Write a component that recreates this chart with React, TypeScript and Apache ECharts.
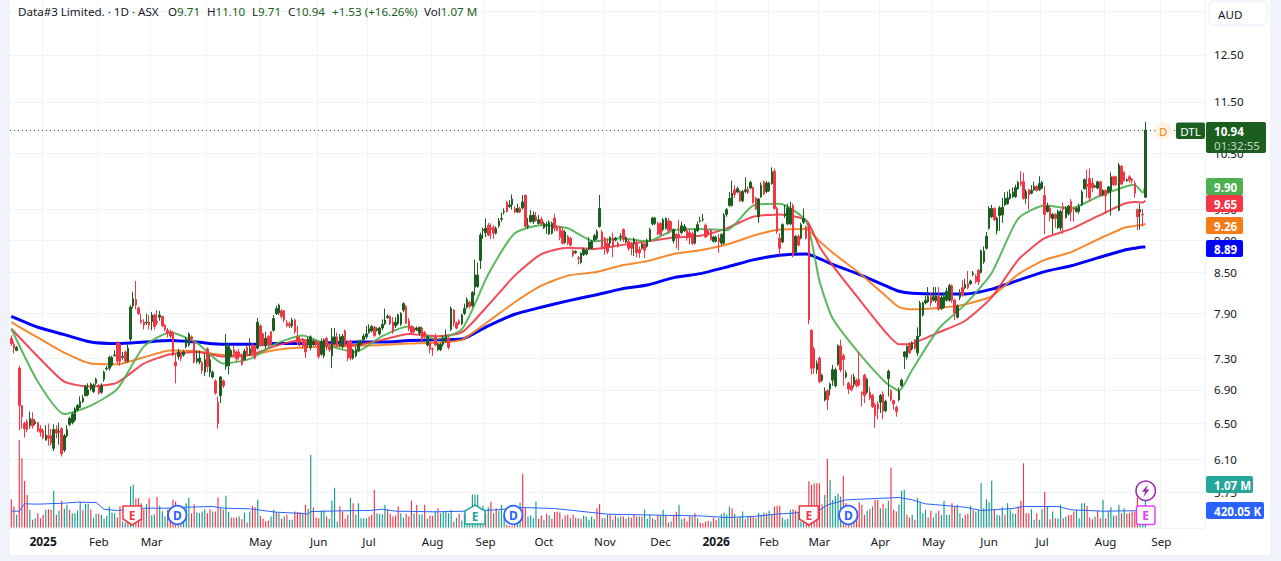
import React, { useEffect, useRef } from "react";
import * as echarts from "echarts";

// ---- candles: [open, close, low, high], one small list per stretch of 20 sessions
const candlesA = [[7.56,7.49,7.46,7.60],[7.48,7.43,7.36,7.52],[7.40,7.44,7.39,7.46],[7.17,6.71,6.42,7.20],[6.71,6.58,6.44,6.71],[6.50,6.44,6.34,6.52],[6.52,6.43,6.40,6.55],[6.48,6.56,6.44,6.64],[6.55,6.47,6.44,6.63],[6.50,6.52,6.48,6.55],[6.51,6.42,6.40,6.52],[6.44,6.40,6.35,6.48],[6.42,6.34,6.32,6.44],[6.31,6.37,6.31,6.48],[6.36,6.33,6.25,6.50],[6.36,6.28,6.25,6.44],[6.22,6.43,6.19,6.49],[6.43,6.39,6.33,6.48],[6.40,6.41,6.26,6.51],[6.44,6.16,6.13,6.46]];
const candlesB = [[6.20,6.36,6.18,6.38],[6.36,6.43,6.34,6.48],[6.49,6.56,6.47,6.58],[6.51,6.61,6.49,6.63],[6.54,6.67,6.52,6.69],[6.66,6.71,6.64,6.73],[6.69,6.76,6.68,6.82],[6.76,6.80,6.74,6.84],[6.83,6.94,6.82,6.96],[6.84,6.90,6.82,6.98],[6.91,6.97,6.89,6.99],[6.88,6.96,6.86,6.98],[6.98,7.03,6.96,7.05],[6.95,6.86,6.84,6.97],[6.87,6.95,6.85,6.98],[7.03,7.12,7.00,7.14],[7.16,7.17,7.14,7.20],[7.17,7.31,7.14,7.33],[7.21,7.31,7.19,7.33],[7.33,7.34,7.32,7.40]];
const candlesC = [[7.50,7.26,7.23,7.52],[7.48,7.26,7.20,7.50],[7.31,7.32,7.28,7.38],[7.38,7.26,7.24,7.40],[7.26,7.43,7.24,7.48],[7.55,7.99,7.52,8.02],[8.01,8.11,7.97,8.21],[8.10,8.02,7.96,8.37],[7.98,7.90,7.88,8.00],[7.81,7.78,7.76,7.90],[7.78,7.74,7.68,7.82],[7.77,7.78,7.74,7.90],[7.78,7.74,7.68,7.88],[7.79,7.88,7.67,7.92],[7.88,7.72,7.68,7.90],[7.79,7.77,7.74,7.95],[7.85,7.88,7.80,7.94],[7.86,7.73,7.71,7.87],[7.74,7.68,7.66,7.75],[7.67,7.63,7.57,7.70]];
const candlesD = [[7.65,7.59,7.56,7.68],[7.63,7.34,7.32,7.66],[7.25,7.20,6.98,7.35],[7.32,7.38,7.28,7.42],[7.37,7.30,7.26,7.39],[7.34,7.38,7.32,7.40],[7.45,7.55,7.43,7.58],[7.47,7.62,7.45,7.64],[7.58,7.55,7.52,7.60],[7.51,7.25,7.23,7.53],[7.26,7.29,7.23,7.40],[7.25,7.30,7.22,7.40],[7.24,7.14,7.10,7.26],[7.12,7.28,7.07,7.36],[7.42,7.19,7.12,7.44],[7.12,7.28,7.06,7.34],[7.06,7.12,7.04,7.14],[7.01,6.86,6.84,7.03],[6.75,6.50,6.44,6.82],[6.83,7.06,6.74,7.07]];
const candlesE = [[7.01,6.95,6.92,7.03],[7.19,7.48,7.15,7.62],[7.20,7.45,7.09,7.49],[7.33,7.40,7.31,7.42],[7.41,7.36,7.32,7.46],[7.38,7.29,7.25,7.40],[7.38,7.33,7.28,7.42],[7.34,7.22,7.20,7.36],[7.28,7.39,7.27,7.42],[7.44,7.35,7.33,7.46],[7.35,7.42,7.33,7.56],[7.47,7.37,7.35,7.50],[7.45,7.30,7.28,7.47],[7.43,7.78,7.41,7.84],[7.73,7.47,7.45,7.75],[7.62,7.47,7.45,7.64],[7.46,7.56,7.42,7.65],[7.59,7.47,7.43,7.60],[7.65,7.48,7.46,7.66],[7.67,7.83,7.65,7.88]];
const candlesF = [[7.90,7.97,7.88,8.01],[7.91,8.02,7.88,8.04],[7.94,7.86,7.83,7.96],[7.94,7.81,7.78,7.95],[7.77,7.73,7.71,7.81],[7.76,7.73,7.70,7.79],[7.73,7.81,7.70,7.84],[7.81,7.65,7.62,7.83],[7.58,7.50,7.47,7.73],[7.55,7.51,7.45,7.58],[7.55,7.46,7.42,7.57],[7.52,7.38,7.30,7.55],[7.48,7.55,7.44,7.58],[7.44,7.58,7.40,7.60],[7.48,7.52,7.46,7.55],[7.52,7.48,7.46,7.54],[7.50,7.32,7.29,7.52],[7.35,7.52,7.33,7.56],[7.33,7.54,7.30,7.56],[7.56,7.45,7.40,7.58]];
const candlesG = [[7.44,7.41,7.38,7.47],[7.33,7.58,7.17,7.70],[7.50,7.58,7.48,7.70],[7.58,7.47,7.44,7.64],[7.47,7.58,7.44,7.62],[7.45,7.59,7.42,7.62],[7.66,7.50,7.45,7.68],[7.52,7.30,7.26,7.54],[7.52,7.30,7.27,7.54],[7.30,7.40,7.28,7.42],[7.33,7.41,7.31,7.45],[7.40,7.52,7.38,7.54],[7.48,7.52,7.46,7.54],[7.54,7.59,7.52,7.62],[7.58,7.62,7.55,7.73],[7.64,7.69,7.62,7.75],[7.66,7.72,7.64,7.74],[7.71,7.60,7.58,7.73],[7.67,7.69,7.65,7.71],[7.62,7.70,7.60,7.72]];
const candlesH = [[7.70,7.75,7.67,7.82],[7.76,7.81,7.74,7.97],[7.84,7.86,7.83,7.89],[7.86,7.76,7.74,7.88],[7.78,7.65,7.62,7.85],[7.73,7.78,7.70,7.85],[7.76,7.88,7.74,7.90],[7.75,7.90,7.73,7.92],[7.95,8.04,7.92,8.06],[8.00,7.77,7.75,8.02],[7.80,7.69,7.66,7.84],[7.72,7.64,7.62,7.74],[7.70,7.65,7.63,7.72],[7.68,7.70,7.66,7.72],[7.63,7.71,7.60,7.72],[7.70,7.54,7.52,7.72],[7.64,7.58,7.56,7.66],[7.47,7.58,7.45,7.60],[7.50,7.42,7.36,7.52],[7.42,7.41,7.33,7.44]];
const candlesI = [[7.58,7.47,7.45,7.62],[7.41,7.48,7.39,7.50],[7.41,7.48,7.39,7.50],[7.48,7.56,7.45,7.60],[7.52,7.60,7.50,7.68],[7.56,7.44,7.41,7.58],[7.68,7.97,7.66,8.00],[7.95,7.77,7.72,7.96],[7.77,7.70,7.68,7.79],[7.80,7.76,7.74,7.82],[7.76,7.88,7.74,7.90],[7.90,7.97,7.88,8.04],[7.99,8.10,7.97,8.13],[8.06,8.00,7.97,8.08],[8.01,8.20,7.99,8.22],[8.28,8.46,8.16,8.69],[8.29,8.46,8.27,8.65],[8.68,9.08,8.55,9.12],[9.15,9.17,9.02,9.20],[9.12,9.19,9.05,9.35]];
const candlesJ = [[9.24,9.08,9.06,9.28],[9.20,9.17,9.02,9.27],[9.20,9.11,9.02,9.24],[9.11,9.19,9.09,9.22],[9.23,9.31,9.20,9.36],[9.34,9.35,9.30,9.45],[9.46,9.47,9.42,9.52],[9.62,9.47,9.45,9.65],[9.55,9.58,9.53,9.66],[9.58,9.68,9.50,9.76],[9.52,9.46,9.44,9.56],[9.46,9.52,9.44,9.60],[9.52,9.46,9.44,9.55],[9.53,9.63,9.50,9.75],[9.74,9.22,9.20,9.76],[9.22,9.24,9.18,9.36],[9.30,9.40,9.28,9.49],[9.30,9.41,9.26,9.47],[9.38,9.32,9.30,9.46],[9.27,9.33,9.25,9.41]];
const candlesK = [[9.34,9.26,9.24,9.38],[9.20,9.27,9.18,9.30],[9.23,9.25,9.10,9.30],[9.10,9.29,9.08,9.32],[9.11,9.27,9.09,9.30],[9.36,9.19,9.14,9.43],[9.21,9.16,9.14,9.24],[9.21,9.04,9.00,9.23],[9.15,8.95,8.93,9.20],[8.96,9.13,8.94,9.16],[9.06,8.95,8.92,9.08],[9.03,8.92,8.90,9.05],[8.83,8.76,8.73,8.85],[8.80,8.82,8.78,8.84],[8.72,8.71,8.62,8.75],[8.65,8.79,8.63,8.81],[8.77,8.85,8.75,8.88],[8.78,8.84,8.76,8.86],[8.86,8.97,8.84,9.05],[8.87,8.98,8.85,9.00]];
const candlesL = [[9.00,9.07,8.98,9.10],[9.03,9.14,9.00,9.17],[9.22,9.52,9.20,9.75],[9.13,8.87,8.85,9.16],[9.03,8.87,8.77,9.05],[8.95,8.82,8.78,9.03],[8.95,9.04,8.90,9.06],[9.03,8.90,8.73,9.12],[9.00,9.03,8.98,9.05],[8.95,8.90,8.88,8.98],[9.05,9.06,8.98,9.11],[9.17,9.01,8.97,9.19],[8.97,9.04,8.95,9.06],[8.98,8.87,8.83,9.02],[8.94,8.87,8.76,8.97],[8.94,9.01,8.75,9.04],[8.94,8.80,8.73,9.00],[8.85,8.80,8.72,8.90],[8.87,8.94,8.85,8.96],[8.94,8.84,8.72,8.96]];
const candlesM = [[8.90,9.00,8.88,9.02],[8.99,9.17,8.97,9.20],[9.26,9.36,9.24,9.38],[9.27,9.36,9.24,9.38],[9.27,9.10,9.08,9.30],[9.27,9.09,9.07,9.29],[9.17,9.33,9.14,9.36],[9.19,9.35,9.17,9.37],[9.31,9.15,9.10,9.36],[9.30,9.17,9.15,9.32],[8.99,9.17,8.95,9.19],[9.09,9.04,8.87,9.11],[9.09,9.04,8.84,9.33],[9.12,9.23,9.09,9.30],[9.15,9.22,9.13,9.26],[9.15,9.03,8.99,9.20],[9.12,9.05,8.93,9.18],[9.10,8.95,8.92,9.14],[8.95,9.17,8.93,9.19],[9.15,9.25,9.13,9.30]];
const candlesN = [[9.31,9.32,9.28,9.38],[9.33,9.34,9.30,9.43],[9.24,9.05,9.03,9.27],[9.15,9.08,9.06,9.17],[9.16,9.01,8.99,9.18],[8.98,9.05,8.96,9.07],[8.98,9.05,8.96,9.07],[9.03,8.97,8.80,9.10],[8.95,9.09,8.92,9.11],[8.95,9.41,8.93,9.44],[9.42,9.50,9.38,9.53],[9.57,9.69,9.55,9.80],[9.57,9.78,9.55,10.00],[9.84,9.76,9.70,9.92],[9.80,9.86,9.78,9.90],[9.81,9.65,9.63,9.84],[9.65,9.81,9.62,9.84],[9.81,9.84,9.78,10.06],[9.85,9.79,9.77,9.90],[9.87,9.97,9.85,10.00]];
const candlesO = [[9.88,9.62,9.60,9.90],[9.70,9.51,9.49,9.72],[9.38,9.68,9.28,9.70],[9.72,9.92,9.70,9.97],[9.98,9.77,9.75,10.00],[9.81,9.96,9.78,10.00],[9.82,9.96,9.80,9.98],[9.95,10.16,9.93,10.24],[10.17,9.52,9.50,10.22],[9.52,9.14,9.10,9.55],[9.03,8.87,8.77,9.11],[8.97,9.25,8.95,9.27],[9.40,9.43,9.36,9.58],[9.26,9.53,9.24,9.60],[9.26,9.52,9.24,9.63],[9.57,8.75,8.73,9.60],[8.81,9.06,8.79,9.08],[9.06,8.92,8.90,9.09],[9.03,9.25,9.01,9.28],[9.29,9.35,9.26,9.52]];
const candlesP = [[9.21,9.03,9.01,9.23],[9.22,7.81,7.75,9.28],[7.67,7.17,7.09,7.68],[7.42,7.17,7.10,7.45],[7.15,7.23,7.10,7.27],[7.30,7.00,6.98,7.32],[7.02,7.08,7.00,7.10],[6.78,6.88,6.76,6.93],[6.89,6.78,6.66,6.91],[6.91,6.97,6.83,6.99],[7.02,7.15,6.95,7.21],[6.95,7.15,6.93,7.18],[7.22,7.46,7.20,7.48],[7.46,7.15,7.12,7.54],[7.33,7.28,6.95,7.36],[7.06,7.11,7.04,7.14],[6.98,6.91,6.85,7.00],[6.95,6.90,6.88,7.09],[6.97,7.06,6.93,7.10],[7.02,6.95,6.93,7.04]];
const candlesQ = [[7.03,6.96,6.94,7.38],[6.87,6.85,6.70,6.88],[7.08,6.83,6.74,7.10],[6.87,7.03,6.85,7.05],[6.87,6.80,6.78,6.94],[6.83,6.70,6.68,6.85],[6.72,6.59,6.45,6.74],[6.73,6.67,6.55,6.76],[6.75,6.83,6.62,6.85],[6.85,6.64,6.55,6.88],[6.65,6.76,6.63,6.78],[7.04,7.13,6.82,7.15],[6.89,6.78,6.76,6.91],[6.77,6.73,6.66,6.78],[6.69,6.64,6.58,6.71],[6.78,6.89,6.76,6.93],[6.95,7.02,6.94,7.04],[7.32,7.38,7.16,7.39],[7.31,7.45,7.28,7.47],[7.49,7.37,7.35,7.51]];
const candlesR = [[7.42,7.50,7.40,7.52],[7.54,7.43,7.41,7.55],[7.37,7.59,7.33,7.71],[7.60,8.05,7.58,8.08],[7.88,8.05,7.86,8.07],[8.05,8.09,8.03,8.15],[8.07,8.14,8.05,8.28],[8.14,8.05,8.00,8.20],[8.09,8.14,8.07,8.28],[8.08,8.15,8.05,8.28],[8.14,7.96,7.94,8.28],[7.97,8.13,7.95,8.16],[7.99,8.14,7.97,8.20],[8.09,8.22,8.07,8.27],[8.09,8.30,8.07,8.33],[8.30,8.09,8.05,8.32],[8.09,7.91,7.81,8.11],[7.85,8.01,7.83,8.03],[8.13,8.20,8.09,8.25],[8.27,8.17,8.14,8.38]];
const candlesS = [[8.27,8.32,8.25,8.40],[8.33,8.27,8.25,8.52],[8.33,8.37,8.31,8.39],[8.47,8.49,8.44,8.52],[8.44,8.36,8.33,8.47],[8.53,8.36,8.31,8.55],[8.50,8.83,8.48,8.85],[8.66,8.83,8.63,8.90],[8.87,9.06,8.85,9.13],[9.19,9.52,9.17,9.56],[9.38,9.52,9.36,9.58],[9.52,9.33,9.31,9.54],[9.15,9.36,9.09,9.38],[9.40,9.53,9.15,9.56],[9.41,9.54,9.28,9.70],[9.58,9.69,9.56,9.80],[9.60,9.70,9.58,9.81],[9.69,9.77,9.67,9.85],[9.72,9.80,9.70,9.88],[9.72,9.88,9.70,9.93]];
const candlesT = [[9.86,9.97,9.84,10.00],[9.98,9.94,9.90,10.17],[9.98,9.69,9.67,10.14],[9.69,9.81,9.60,9.85],[9.84,9.75,9.50,9.86],[9.78,9.83,9.76,9.92],[9.84,9.90,9.82,9.98],[9.90,9.83,9.81,9.92],[9.84,9.95,9.82,10.08],[9.87,9.97,9.85,10.00],[9.74,9.42,9.10,9.90],[9.47,9.56,9.45,9.62],[9.52,9.37,9.30,9.57],[9.35,9.42,9.10,9.44],[9.42,9.35,9.20,9.44],[9.20,9.47,9.18,9.50],[9.20,9.47,9.15,9.50],[9.55,9.50,9.10,9.62],[9.37,9.53,9.35,9.56],[9.43,9.56,9.40,9.58]];
const candlesU = [[9.64,9.46,9.30,9.68],[9.52,9.50,9.30,9.55],[9.47,9.52,9.45,9.54],[9.47,9.55,9.43,9.60],[9.58,9.80,9.56,9.84],[9.86,10.02,9.84,10.04],[9.94,9.90,9.70,10.20],[10.04,9.70,9.63,10.22],[9.96,9.88,9.80,10.05],[9.89,9.91,9.87,9.93],[9.87,9.98,9.85,10.00],[9.98,9.74,9.72,10.00],[9.75,9.83,9.73,9.85],[9.83,9.74,9.43,9.85],[9.80,9.89,9.78,9.91],[9.83,10.07,9.40,10.15],[10.07,9.93,9.91,10.09],[10.07,9.93,9.91,10.09],[9.49,10.28,9.47,10.32],[10.26,9.94,9.92,10.28]];
const candlesV = [[10.15,10.00,9.98,10.17],[10.00,10.02,9.98,10.04],[10.07,10.01,9.97,10.10],[10.03,10.00,9.95,10.05],[9.95,9.78,9.70,10.00],[9.50,9.38,9.16,9.52],[9.46,9.50,9.17,9.60],[9.42,9.41,9.22,9.51],[9.71,10.94,9.71,11.10]];

// ---- volume in thousands; negative marks a down-coloured bar
const volA = [-706,-523,315,-2183,-1726,-1162,-813,440,-191,232,-357,-232,-315,440,-456,-440,913,-315,415,-664];
const volB = [465,564,-440,357,357,423,639,-440,589,589,-456,241,340,-340,315,216,290,523,373,357];
const volC = [-249,-523,149,125,-274,1021,1062,-730,-730,-606,-456,581,-730,307,332,-764,539,407,274,-440];
const volD = [-357,-689,-647,232,-274,506,606,739,-357,-581,373,357,398,456,-357,-456,398,-398,-747,481];
const volE = [-440,788,390,-249,-249,-249,274,-208,373,-125,398,-539,-506,689,-290,-216,-158,-174,274,440];
const volF = [-382,357,-216,274,-315,191,191,-398,-382,-382,357,-564,465,1809,-498,-249,-232,415,423,-274];
const volG = [216,664,988,141,-523,-398,-216,-315,739,-606,315,606,232,232,232,-274,-315,-938,357,332];
const volH = [332,564,-440,-340,-274,-299,-523,357,241,-340,-274,-664,357,-564,315,332,-564,216,-299,-290];
const volI = [415,-481,357,398,398,357,440,-149,241,-340,174,357,357,274,813,813,813,357,539,-357];
const volJ = [506,-639,357,-481,415,564,274,-66,-42,-42,-66,191,622,-1336,-481,274,299,232,647,-216];
const volK = [-299,191,-340,299,-216,-382,-398,-373,208,-299,-315,232,-315,-241,232,-216,299,274,191,274];
const volL = [208,-481,-589,232,-232,315,-332,191,-299,241,274,-274,-216,274,-241,-332,-274,274,-274,440];
const volM = [216,315,-232,191,-315,299,440,-299,-125,149,-315,-390,564,208,-232,-149,-290,274,-357,232];
const volN = [-125,-108,-149,-166,149,-249,-191,232,340,373,315,523,-481,340,-232,274,398,-208,274,-274];
const volO = [-274,241,357,-315,373,-357,415,-315,-523,-539,-539,241,191,216,440,-456,-423,357,149,149];
const volP = [-274,-1154,-1062,-1104,-1104,-1104,-581,813,-1710,1187,689,788,838,772,-1287,-606,-357,232,-274,-440];
const volQ = [-631,-564,-315,415,-456,523,-689,-689,481,-589,481,664,-1494,-440,-398,564,913,938,-315,-249];
const volR = [315,-191,730,631,357,440,-249,-415,249,357,-415,315,664,315,315,-606,-523,564,357,232];
const volS = [-315,-340,539,-440,398,440,1104,481,706,631,1162,-440,315,299,506,-315,606,440,357,340];
const volT = [-523,-664,-1602,-357,-357,456,191,-357,191,456,-888,523,-208,398,-232,232,564,-232,274,-315];
const volU = [-315,-398,440,232,606,606,-539,-249,-208,274,-423,-232,689,-232,415,506,299,-299,564,-357];
const volV = [481,-340,-357,-398,-398,-747,149,108,1070];

// ---- moving averages, read at these session numbers
const maIndex = [0,10,20,30,40,50,60,70,80,90,100,110,120,130,140,150,160,170,180,190,200,210,220,230,240,250,260,270,280,290,300,305,310,320,330,335,340,350,360,370,380,390,400,410,420,424,427,428];
const ma20 = [7.69,7.00,6.61,6.71,6.91,7.45,7.64,7.50,7.23,7.29,7.49,7.60,7.46,7.38,7.59,7.72,7.55,7.68,8.47,9.11,9.24,9.19,8.98,9.03,8.98,9.16,9.18,9.16,9.57,9.60,9.30,8.37,7.83,7.36,6.99,6.89,7.15,7.69,8.03,8.49,9.35,9.57,9.52,9.72,9.89,9.93,9.79,9.90];
const ma50 = [7.69,7.32,7.00,6.94,6.99,7.23,7.35,7.38,7.32,7.34,7.46,7.54,7.48,7.47,7.54,7.62,7.59,7.64,8.02,8.45,8.78,8.88,8.86,8.92,8.98,9.04,9.07,9.19,9.38,9.42,9.32,8.90,8.60,8.10,7.64,7.48,7.49,7.64,7.80,8.13,8.69,9.03,9.18,9.39,9.60,9.63,9.62,9.65];
const ma100 = [7.78,7.57,7.37,7.23,7.22,7.31,7.40,7.39,7.34,7.34,7.41,7.44,7.45,7.46,7.47,7.49,7.50,7.54,7.79,8.06,8.30,8.45,8.50,8.60,8.67,8.78,8.84,8.93,9.07,9.17,9.18,8.98,8.80,8.49,8.15,7.99,7.96,7.98,8.03,8.15,8.47,8.69,8.81,9.01,9.20,9.23,9.25,9.26];
const ma200 = [7.86,7.71,7.61,7.51,7.49,7.51,7.53,7.51,7.48,7.48,7.49,7.49,7.50,7.51,7.51,7.53,7.54,7.55,7.73,7.89,7.99,8.08,8.16,8.25,8.31,8.42,8.48,8.58,8.69,8.76,8.78,8.71,8.62,8.47,8.30,8.22,8.19,8.18,8.18,8.25,8.38,8.51,8.60,8.72,8.84,8.87,8.89,8.89];
const volMaIndex = [0,3,5,10,20,25,32,35,40,50,60,66,76,80,90,100,110,112,113,125,135,140,145,160,172,183,193,205,225,250,260,270,280,290,295,305,308,315,335,340,345,360,366,378,382,395,400,412,428];
const volMa = [407,407,590,581,606,631,622,456,423,481,481,506,523,481,465,382,349,332,398,415,423,456,407,390,407,440,498,473,332,299,290,249,274,340,357,430,564,689,747,689,589,506,423,473,523,523,440,407,420];

// ---- axis ticks
const priceTicks = [13.5,12.5,11.5,10.5,9.5,9,8.5,7.9,7.3,6.9,6.5,6.1,5.75,5.4];
const hiddenPriceTicks = [13.5,5.4];
const monthIndex = [12,33,53,74,94,116,135,159,179,201,224,245,266,286,305,328,348,369,389,413,434];
const monthLabels = ["2025","Feb","Mar","","May","Jun","Jul","Aug","Sep","Oct","Nov","Dec","2026","Feb","Mar","Apr","May","Jun","Jul","Aug","Sep"];

const candles = [candlesA,candlesB,candlesC,candlesD,candlesE,candlesF,candlesG,candlesH,candlesI,candlesJ,candlesK,candlesL,candlesM,candlesN,candlesO,candlesP,candlesQ,candlesR,candlesS,candlesT,candlesU,candlesV].flat();
const volumes = [volA,volB,volC,volD,volE,volF,volG,volH,volI,volJ,volK,volL,volM,volN,volO,volP,volQ,volR,volS,volT,volU,volV].flat();
const SLOTS = 451;
const categories = Array.from({ length: SLOTS }, (_, i) => String(i));
const monthAt = new Map(monthIndex.map((m, k) => [m, monthLabels[k]]));

const FONT = '"Noto Sans", sans-serif';
const SIZE = 11.6;
const GREEN = "#1b5e20";
const RED = "#f23645";
const GRID = "#f0f3fa";

const pairs = (idx: number[], vals: number[]) => idx.map((x, k) => [x, vals[k]]);
const maSeries = (name: string, vals: number[], color: string, width: number) => ({
  name, type: "line", xAxisIndex: 0, yAxisIndex: 0, data: pairs(maIndex, vals), showSymbol: false, symbol: "none",
  smooth: 0.2, lineStyle: { color, width, opacity: width > 2 ? 1 : 0.9 }, z: 3, silent: true,
});

const label = (x: number, y: number, text: string, fill: string, weight = "normal", size = SIZE, align = "center") => ({
  type: "text", x, y, z: 110, silent: true,
  style: { text, fill, font: `${weight} ${size}px ${FONT}`, align, verticalAlign: "middle" },
});
const box = (x: number, y: number, width: number, height: number, fill: string, r = 2, stroke?: string, lineWidth = 0) => ({
  type: "rect", z: 105, silent: true, shape: { x, y, width, height, r },
  style: { fill, stroke, lineWidth },
});
const circle = (cx: number, cy: number, r: number, fill: string, stroke?: string, lineWidth = 0) => ({
  type: "circle", z: 105, silent: true, shape: { cx, cy, r }, style: { fill, stroke, lineWidth },
});
const poly = (points: number[][], fill: string, stroke?: string, lineWidth = 0) => ({
  type: "polygon", z: 105, silent: true, shape: { points }, style: { fill, stroke, lineWidth },
});
const headerRich = { k: { fill: "#131722", font: `${SIZE}px ${FONT}` }, g: { fill: GREEN, font: `${SIZE}px ${FONT}` } };
const header = (x: number, text: string) => ({
  type: "text", x, y: 11, z: 110, silent: true,
  style: { text, verticalAlign: "middle", font: `${SIZE}px ${FONT}`, rich: headerRich },
});

const graphicElements = [
  // frame around the pane
  box(0, 0, 10, 561, GRID, 0),
  box(0, 555, 1281, 6, GRID, 0),
  box(1270, 0, 11, 561, GRID, 0),
  // header
  header(18, "{k|Data#3 Limited. · 1D · ASX}"),
  header(168, "{k|O}{g|9.71}"),
  header(207, "{k|H}{g|11.10}"),
  header(252, "{k|L}{g|9.71}"),
  header(288, "{k|C}{g|10.94}"),
  header(332, "{g|+1.53 (+16.26%)}"),
  header(424, "{k|Vol}{g|1.07 M}"),
  // currency button
  box(1209, 1, 58, 24, "#ffffff", 5, GRID, 1.5),
  label(1218, 14, "AUD", "#131722", "normal", SIZE, "left"),
  // price tags
  circle(1163.3, 130.7, 8.5, "#fff3e0"),
  label(1163.3, 131, "D", "#f57c00", "normal", 11),
  box(1176, 122.5, 29, 16.5, GREEN),
  label(1190.5, 131, "DTL", "#ffffff"),
  box(1206, 122, 60, 31, GREEN),
  label(1214, 131, "10.94", "#ffffff", "bold", SIZE, "left"),
  label(1214, 145, "01:32:55", "#c5d4c6", "normal", SIZE, "left"),
  box(1206, 178, 37, 17, "#4caf50"),
  label(1214, 187, "9.90", "#ffffff", "bold", SIZE, "left"),
  box(1206, 195, 37, 17, RED),
  label(1214, 204, "9.65", "#ffffff", "bold", SIZE, "left"),
  box(1206, 217, 37, 17, "#f57c17"),
  label(1214, 226, "9.26", "#ffffff", "bold", SIZE, "left"),
  box(1206, 240, 37, 17, "#0000ff"),
  label(1214, 249, "8.89", "#ffffff", "bold", SIZE, "left"),
  box(1206, 476, 47, 17, "#26a69a"),
  label(1214, 485, "1.07 M", "#ffffff", "bold", SIZE, "left"),
  box(1206, 502, 58, 17, "#2962ff"),
  label(1214, 511, "420.05 K", "#ffffff", "bold", SIZE, "left"),
  // event badges
  poly([[123,506],[141.5,506],[141.5,519],[132.2,525],[123,519]], "#ffffff", RED, 1.5),
  label(132.2, 515, "E", RED, "bold", 12),
  poly([[475,505],[485,511],[485,524],[465,524],[465,511]], "#ffffff", "#26a69a", 1.5),
  label(475, 516, "E", "#26a69a", "bold", 12),
  poly([[799.3,506],[818.3,506],[818.3,519],[808.8,525],[799.3,519]], "#ffffff", RED, 1.5),
  label(808.8, 515, "E", RED, "bold", 12),
  circle(177.3, 515, 9.2, "#ffffff", "#2962ff", 1.8),
  label(177.3, 515.5, "D", "#2962ff", "bold", 12),
  circle(513.3, 515, 9.2, "#ffffff", "#2962ff", 1.8),
  label(513.3, 515.5, "D", "#2962ff", "bold", 12),
  circle(848.3, 515, 9.2, "#ffffff", "#2962ff", 1.8),
  label(848.3, 515.5, "D", "#2962ff", "bold", 12),
  circle(1145.7, 490.7, 9.7, "#ffffff", "#9c27b0", 1.5),
  poly([[1147.8,484.5],[1142,491.7],[1145.2,491.7],[1143.4,497],[1149.4,489.6],[1146.2,489.6]], "#9c27b0"),
  box(1136.5, 506, 18.5, 18.5, "#ffffff", 2, "#e040fb", 1.5),
  label(1145.7, 515.5, "E", "#e040fb", "bold", 12),
];

const option = {
  animation: false,
  backgroundColor: "#ffffff",
  textStyle: { fontFamily: FONT },
  grid: [
    { left: 10, top: 0, width: 1195, height: 528 },
    { left: 10, top: 400, width: 1195, height: 127.5 },
  ],
  xAxis: [
    {
      type: "category", gridIndex: 0, data: categories, boundaryGap: true,
      axisLine: { show: false }, axisTick: { show: false },
      splitLine: { show: true, interval: (i: number) => monthAt.has(i), lineStyle: { color: GRID, width: 1 } },
      axisLabel: {
        show: true, margin: 7, color: "#131722", fontSize: SIZE, fontFamily: FONT, interval: (i: number) => monthAt.has(i),
        formatter: (_v: string, i: number) => {
          const t = monthAt.get(i) ?? "";
          return /^\d{4}$/.test(t) ? `{y|${t}}` : t;
        },
        rich: { y: { fontWeight: "bold", fontSize: 12, fontFamily: FONT, color: "#131722" } },
      },
    },
    { type: "category", gridIndex: 1, data: categories, boundaryGap: true, show: false },
  ],
  yAxis: [
    {
      type: "log", logBase: 10, gridIndex: 0, position: "right", min: 5.4, max: 13.78, scale: true,
      axisLine: { show: false },
      axisTick: { show: false, customValues: priceTicks },
      splitLine: { show: true, lineStyle: { color: GRID, width: 1 } },
      axisLabel: {
        customValues: priceTicks, margin: 9, color: "#131722", fontSize: SIZE, fontFamily: FONT,
        formatter: (v: number) => (hiddenPriceTicks.some((h) => Math.abs(h - v) < 0.01) ? "" : Number(v).toFixed(2)),
      },
    },
    { type: "value", gridIndex: 1, min: 0, max: 3175, show: false },
  ],
  series: [
    {
      name: "Volume", type: "bar", xAxisIndex: 1, yAxisIndex: 1, barWidth: 1.15, z: 1, silent: true,
      data: volumes.map((v) => ({ value: Math.abs(v), itemStyle: { color: v < 0 ? "#f23645" : "#149c8c" } })),
    },
    {
      name: "Volume MA", type: "line", xAxisIndex: 1, yAxisIndex: 1, data: pairs(volMaIndex, volMa), symbol: "none",
      showSymbol: false, lineStyle: { color: "#2962ff", width: 1 }, z: 2, silent: true,
    },
    maSeries("MA200", ma200, "#0000ff", 3),
    maSeries("MA100", ma100, "#f57c17", 2),
    maSeries("MA50", ma50, "#f23645", 2),
    maSeries("MA20", ma20, "#4caf50", 2),
    {
      name: "DTL", type: "candlestick", xAxisIndex: 0, yAxisIndex: 0, data: candles, barWidth: 2, z: 5, silent: true,
      itemStyle: { color: GREEN, color0: RED, borderColor: GREEN, borderColor0: RED, borderWidth: 1 },
      markLine: {
        silent: true, symbol: "none", animation: false, label: { show: false },
        lineStyle: { color: GREEN, type: [1, 3], width: 1 }, data: [{ yAxis: 10.94 }],
      },
    },
  ],
  graphic: { elements: graphicElements },
};

export default function App() {
  const ref = useRef<HTMLDivElement>(null);
  useEffect(() => {
    if (!ref.current) return;
    const chart = echarts.init(ref.current, undefined, { renderer: "svg" });
    chart.setOption(option as any);
    return () => chart.dispose();
  }, []);
  return <div ref={ref} style={{ position: "absolute", left: 0, top: 0, width: 1281, height: 561 }} />;
}
